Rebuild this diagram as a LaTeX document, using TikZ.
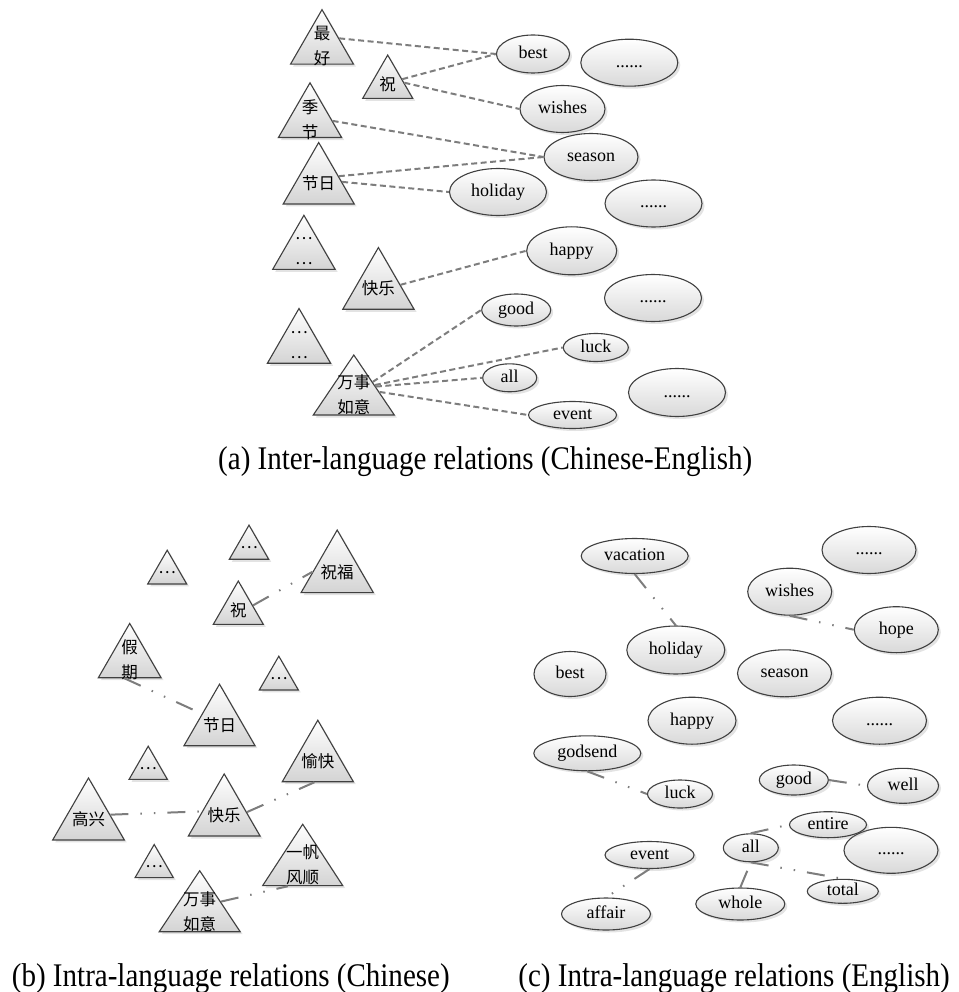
\documentclass[tikz,border=0pt]{standalone}
\usepackage{fontspec}
\setmainfont{Liberation Serif}
\newfontfamily\cjk{Noto Sans CJK SC}
\newfontfamily\capfont[FakeStretch=0.88]{Liberation Serif}
\usetikzlibrary{shapes.geometric, shadows}
\definecolor{edgegrey}{RGB}{64,64,64}
\definecolor{linkgrey}{RGB}{125,125,125}
\tikzset{
    tristyle/.style={regular polygon, regular polygon sides=3, minimum size=#1, inner sep=0pt, draw=edgegrey, line width=1.1pt, top color=white, bottom color=black!17, drop shadow={opacity=0.22, shadow xshift=2.5pt, shadow yshift=-2.5pt}},
    tritext/.style={font=\cjk\fontsize{16.5}{25}\selectfont, align=center, inner sep=0pt},
    ellstyle/.style 2 args={ellipse, minimum width=#1, minimum height=#2, inner sep=0pt, text height=11pt, text depth=2pt, draw=edgegrey, line width=1.1pt, top color=white, bottom color=black!15, drop shadow={opacity=0.22, shadow xshift=2.5pt, shadow yshift=-2.5pt}, font=\fontsize{18}{20}\selectfont},
    interline/.style={draw=linkgrey, line width=2pt, dash pattern=on 6pt off 3.5pt},
    intraline/.style={draw=linkgrey, line width=2pt, dash pattern=on 18pt off 12pt on 1.5pt off 12pt on 1.5pt off 12pt},
    capstyle/.style={font=\capfont\fontsize{33}{36}\selectfont, inner sep=0pt}
}

\begin{document}
\begin{tikzpicture}[x=1pt, y=-1pt]
    \useasboundingbox (0,0) rectangle (958,992);

    % (a) Chinese words
    \node[tristyle=72.7pt, label={[tritext]center:{最\\好}}] (zuihao) at (322,46) {};
    \node[tristyle=57.7pt, label={[tritext]center:{祝}}] (zhua) at (387.7,83.9) {};
    \node[tristyle=73pt, label={[tritext]center:{季\\节}}] (jijie) at (310,119.3) {};
    \node[tristyle=82pt, label={[tritext]center:{节日}}] (jieria) at (318.7,183.5) {};
    \node[tristyle=72pt, label={[tritext]center:{…\\…}}] (moreza) at (303.9,251.3) {};
    \node[tristyle=82.3pt, label={[tritext]center:{快乐}}] (kuailea) at (378.4,288.7) {};
    \node[tristyle=73pt, label={[tritext]center:{…\\…}}] (morezb) at (299,345) {};
    \node[tristyle=80pt, xscale=1.17, label={[tritext]center:{万事\\如意}}] (wanshia) at (353.8,395) {};

    % (a) English words
    \node[ellstyle={73pt}{38pt}] (besta) at (533,54) {best};
    \node[ellstyle={97pt}{47pt}] (moreea) at (629.3,62.7) {......};
    \node[ellstyle={85pt}{47pt}] (wishesa) at (562.5,109) {wishes};
    \node[ellstyle={94pt}{47pt}] (seasona) at (591,157) {season};
    \node[ellstyle={97pt}{47pt}] (holidaya) at (498,192) {holiday};
    \node[ellstyle={97pt}{47pt}] (moreeb) at (653.5,203.5) {......};
    \node[ellstyle={90pt}{48pt}] (happya) at (571.7,250.8) {happy};
    \node[ellstyle={97pt}{47pt}] (moreec) at (653,298) {......};
    \node[ellstyle={69pt}{32pt}] (gooda) at (516.2,310) {good};
    \node[ellstyle={65pt}{28pt}] (lucka) at (595.8,347.5) {luck};
    \node[ellstyle={54pt}{28pt}] (alla) at (509.7,377.8) {all};
    \node[ellstyle={97pt}{48pt}] (moreed) at (677,392.5) {......};
    \node[ellstyle={88pt}{27pt}] (eventa) at (572.5,415) {event};

    % (a) links
    \draw[interline] (zuihao.24) -- (besta.west);
    \draw[interline] (zhua.18) -- (besta.west);
    \draw[interline] (zhua.4) -- (wishesa.west);
    \draw[interline] (jijie.-4) -- (seasona.west);
    \draw[interline] (jieria.20) -- (seasona.west);
    \draw[interline] (jieria.4) -- (holidaya.west);
    \draw[interline] (kuailea.10) -- (happya.west);
    \draw[interline] (wanshia.39) -- (gooda.west);
    \draw[interline] (wanshia.29) -- (lucka.west);
    \draw[interline] (wanshia.24) -- (alla.west);
    \draw[interline] (wanshia.8) -- (eventa.west);

    \node[capstyle, anchor=base west] (capa) at (218,469) {(a) Inter-language relations (Chinese-English)};

    % (b) Chinese words
    \node[tristyle=45pt, label={[tritext]center:{…}}] (morebi) at (167.2,572.7) {};
    \node[tristyle=45.5pt, label={[tritext]center:{…}}] (morebii) at (249,547.9) {};
    \node[tristyle=83.5pt, label={[tritext]center:{祝福}}] (zhufu) at (337.2,571.8) {};
    \node[tristyle=57.7pt, label={[tritext]center:{祝}}] (zhub) at (238.3,609.9) {};
    \node[tristyle=72.4pt, label={[tritext]center:{假\\期}}] (jiaqi) at (129.7,659.6) {};
    \node[tristyle=45pt, label={[tritext]center:{…}}] (morebiii) at (278.8,678.7) {};
    \node[tristyle=82pt, label={[tritext]center:{节日}}] (jierib) at (219.5,725.2) {};
    \node[tristyle=44.2pt, label={[tritext]center:{…}}] (morebiv) at (148.2,768.3) {};
    \node[tristyle=82.7pt, label={[tritext]center:{高兴}}] (gaoxing) at (88.5,819.3) {};
    \node[tristyle=82.8pt, label={[tritext]center:{快乐}}] (kuaileb) at (224.2,815.3) {};
    \node[tristyle=82pt, label={[tritext]center:{愉快}}] (yukuai) at (317.8,761.2) {};
    \node[tristyle=44.2pt, label={[tritext]center:{…}}] (morebv) at (154.2,866.6) {};
    \node[tristyle=81.9pt, xscale=1.13, label={[tritext]center:{一帆\\风顺}}] (yifan) at (302.7,865.2) {};
    \node[tristyle=81.3pt, xscale=1.15, label={[tritext]center:{万事\\如意}}] (wanshib) at (199.7,911.4) {};

    % (b) links
    \draw[intraline] (zhub.17) -- (zhufu.180);
    \draw[intraline] (jiaqi.254) -- (jierib.147);
    \draw[intraline] (gaoxing.12) -- (kuaileb.170);
    \draw[intraline] (kuaileb.8) -- (yukuai.261);
    \draw[intraline] (wanshib.28) -- (yifan.238);

    \node[capstyle, anchor=base west] (capb) at (11.7,986) {(b) Intra-language relations (Chinese)};

    % (c) English words
    \node[ellstyle={107pt}{35pt}] (vacation) at (634.7,556) {vacation};
    \node[ellstyle={94pt}{47pt}] (moreci) at (869,550) {......};
    \node[ellstyle={84pt}{47pt}] (wishesc) at (789.7,591.7) {wishes};
    \node[ellstyle={84pt}{46pt}] (hope) at (896.3,629.7) {hope};
    \node[ellstyle={98pt}{48pt}] (holidayc) at (675.8,650) {holiday};
    \node[ellstyle={72pt}{45pt}] (bestc) at (570,674) {best};
    \node[ellstyle={94pt}{47pt}] (seasonc) at (784.5,673.3) {season};
    \node[ellstyle={88pt}{47pt}] (happyc) at (692,720.7) {happy};
    \node[ellstyle={94pt}{47pt}] (morecii) at (879.5,720.7) {......};
    \node[ellstyle={107pt}{35pt}] (godsend) at (587.3,753.3) {godsend};
    \node[ellstyle={65pt}{28pt}] (luckc) at (680,794) {luck};
    \node[ellstyle={69pt}{30pt}] (goodc) at (793.8,780) {good};
    \node[ellstyle={71pt}{35pt}] (well) at (903,785.8) {well};
    \node[ellstyle={94pt}{46pt}] (morectiii) at (891,850.3) {......};
    \node[ellstyle={77pt}{26pt}] (entire) at (828,824.7) {entire};
    \node[ellstyle={55pt}{28pt}] (allc) at (750.8,847.8) {all};
    \node[ellstyle={89pt}{27pt}] (eventc) at (649.5,855) {event};
    \node[ellstyle={71pt}{24pt}] (total) at (842.8,891.3) {total};
    \node[ellstyle={89pt}{32pt}] (whole) at (740.3,904) {whole};
    \node[ellstyle={89pt}{32pt}] (affair) at (606,914) {affair};

    % (c) links
    \draw[intraline] (vacation.south) -- (holidayc.north);
    \draw[intraline] (wishesc.south) -- (hope.west);
    \draw[intraline] (godsend.south) -- (luckc.west);
    \draw[intraline] (goodc.east) -- (well.west);
    \draw[intraline] (allc.north) -- (entire.west);
    \draw[intraline] (allc.south) -- (total.north);
    \draw[intraline] (whole.north) -- (allc.south);
    \draw[intraline] (eventc.south) -- (affair.north);

    \node[capstyle, anchor=base east] (capc) at (950,986) {(c) Intra-language relations (English)};
\end{tikzpicture}
\end{document}
